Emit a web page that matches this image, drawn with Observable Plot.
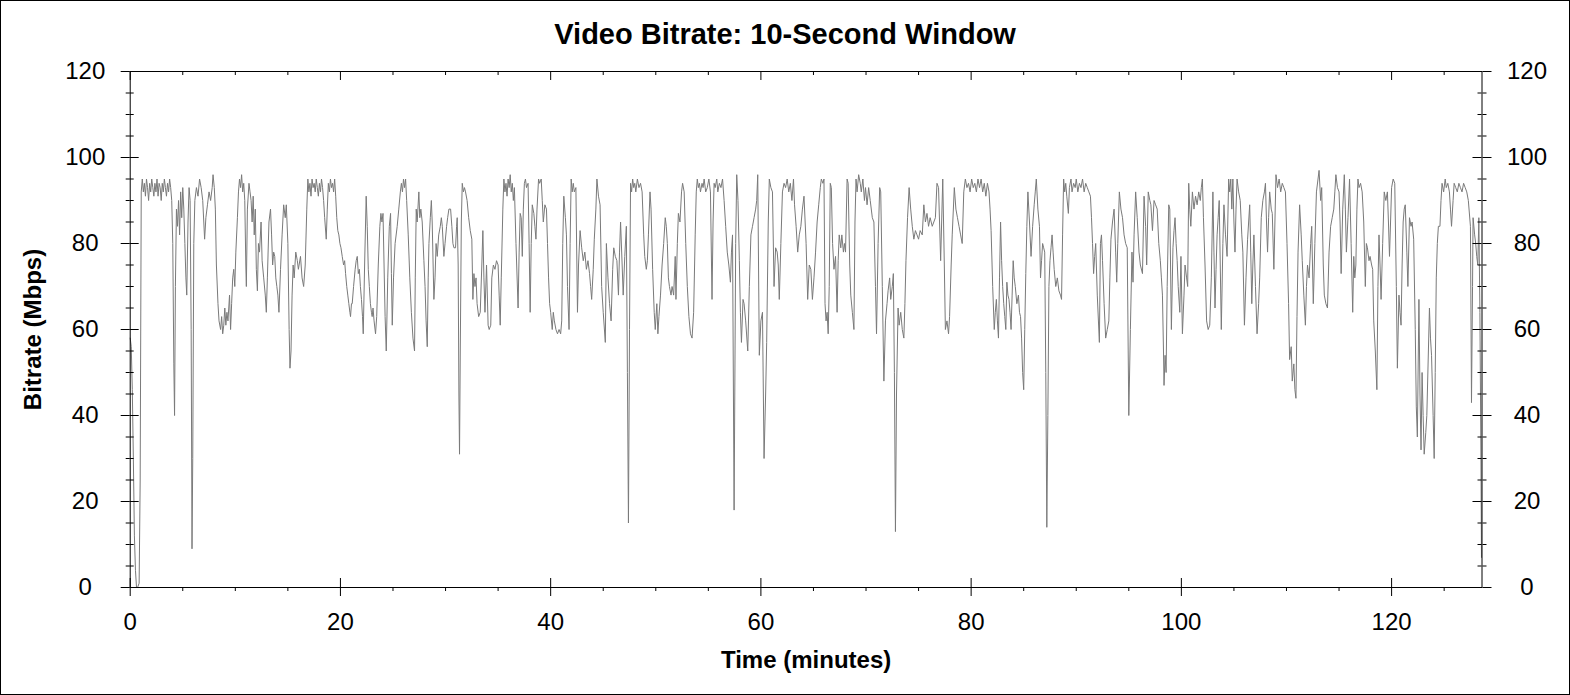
<!DOCTYPE html>
<html><head><meta charset="utf-8">
<script src="https://cdn.jsdelivr.net/npm/d3@7"></script>
<script src="https://cdn.jsdelivr.net/npm/@observablehq/plot@0.6"></script>
<style>
html,body{margin:0;padding:0;background:#fff;}
#frame{width:1570px;height:695px;box-sizing:border-box;border:1px solid #000;overflow:hidden;background:#fff;}
#frame svg{display:block;}
</style></head><body><div id="frame"></div>
<script>
// [minutes, Mbps] readings, split by section of the timeline
const part1 = [[0,58],[0.1,56],[0.2,46],[0.3,30],[0.4,12],[0.5,4],[0.6,0],[0.7,0],[0.85,1],[0.95,25],[1.05,92],[1.15,95],[1.25,92],[1.35,94],[1.45,91],[1.55,95],[1.65,93],[1.75,90],[1.85,94],[1.95,92],[2.05,95],[2.15,93],[2.25,91],[2.35,94],[2.45,92],[2.55,95],[2.65,91],[2.75,94],[2.85,93],[2.95,90],[3.05,94],[3.15,92],[3.25,95],[3.35,93],[3.45,91],[3.55,94],[3.65,92],[3.75,95],[3.85,93],[3.95,90],[4.05,80],[4.15,52],[4.22,40],[4.3,70],[4.4,88],[4.5,84],[4.6,90],[4.7,82],[4.8,92],[4.9,86],[5.0,93],[5.1,88],[5.2,80],[5.3,72],[5.38,68],[5.5,85],[5.6,93],[5.7,90],[5.8,60],[5.88,9],[5.95,30],[6.05,80],[6.15,90],[6.3,93],[6.45,91],[6.6,95],[6.75,93],[6.9,90],[7.0,85],[7.08,81],[7.2,86],[7.35,89],[7.5,92],[7.65,90],[7.8,93],[7.88,96],[8.0,93],[8.1,88],[8.2,75],[8.35,66],[8.45,62],[8.6,60],[8.7,63],[8.8,59],[8.9,61],[9.0,65],[9.1,61],[9.2,64],[9.3,62],[9.45,68],[9.55,60],[9.65,66],[9.75,72],[9.85,74],[9.95,70],[10.05,78],[10.2,86],[10.3,92],[10.4,95],[10.5,93],[10.6,96],[10.7,92],[10.8,94],[10.9,90],[11.0,75],[11.05,70],[11.15,88],[11.3,94],[11.4,92],[11.5,90],[11.6,85],[11.7,91],[11.8,82],[11.9,88],[12.0,74],[12.1,69],[12.2,80],[12.3,78],[12.45,85],[12.55,76],[12.7,72],[12.85,68],[12.95,64],[13.05,72],[13.2,85],[13.35,88],[13.45,82],[13.55,75],[13.65,78],[13.75,77],[13.85,72],[13.95,70],[14.05,68],[14.15,64],[14.3,74],[14.45,82],[14.6,89],[14.75,86],[14.85,89],[15.0,80],[15.12,60],[15.2,51],[15.3,55],[15.4,68],[15.5,75],[15.6,72],[15.75,78],[15.9,76]];
const part2 = [[16.0,74],[16.2,77],[16.35,72],[16.5,70],[16.65,75],[16.8,88],[16.9,95],[17.0,92],[17.1,94],[17.2,91],[17.3,95],[17.4,93],[17.5,94],[17.6,92],[17.7,95],[17.8,93],[17.9,91],[18.0,94],[18.1,92],[18.2,95],[18.3,93],[18.4,90],[18.5,86],[18.65,81],[18.75,88],[18.85,94],[18.95,92],[19.05,95],[19.15,93],[19.25,94],[19.35,92],[19.45,95],[19.55,91],[19.65,86],[19.75,83],[19.85,82],[19.95,80],[20.05,79],[20.17,77],[20.3,75],[20.4,76],[20.49,73],[20.6,70],[20.7,68],[20.8,66],[20.9,64],[20.96,63],[21.05,66],[21.12,66],[21.25,70],[21.4,74],[21.5,76],[21.6,77],[21.7,73],[21.8,74],[21.9,70],[22.0,67],[22.1,63],[22.17,59],[22.3,75],[22.45,91],[22.55,84],[22.65,74],[22.75,70],[22.85,66],[22.95,64],[23.02,63],[23.1,65],[23.2,62],[23.34,59],[23.45,63],[23.6,75],[23.75,84],[23.85,87],[23.95,85],[24.05,87],[24.15,75],[24.25,63],[24.36,55],[24.5,72],[24.65,84],[24.77,87],[24.85,73],[24.93,61],[25.05,72],[25.2,80],[25.4,84],[25.55,88],[25.7,92],[25.8,94],[25.9,92],[26.0,95],[26.1,93],[26.2,95],[26.3,90],[26.45,82],[26.6,72],[26.75,64],[26.9,58],[27.05,55],[27.12,72],[27.21,88],[27.3,85],[27.46,92],[27.55,86],[27.65,88],[27.78,85],[27.94,76],[28.05,70],[28.15,62],[28.26,56],[28.35,72],[28.42,80],[28.55,86],[28.65,90],[28.73,85],[28.89,67],[29.0,72],[29.1,80],[29.21,77],[29.35,82],[29.5,84],[29.6,86],[29.69,84],[29.84,77],[29.95,80],[30.1,84],[30.2,86],[30.32,88],[30.48,88],[30.6,84],[30.7,80],[30.8,79],[30.95,79],[31.05,84],[31.11,86],[31.2,75],[31.27,45],[31.33,31],[31.4,55],[31.5,85],[31.59,94],[31.7,92],[31.8,93],[31.9,92]];
const part3 = [[32.05,90],[32.2,86],[32.35,83],[32.5,81],[32.6,67],[32.7,73],[32.8,70],[32.9,72],[33.0,66],[33.15,63],[33.3,64],[33.45,75],[33.55,83],[33.65,72],[33.75,64],[33.9,75],[34.05,61],[34.15,60],[34.3,61],[34.4,72],[34.55,75],[34.7,74],[34.85,76],[35.0,75],[35.1,68],[35.2,61],[35.3,72],[35.45,88],[35.55,95],[35.65,92],[35.75,94],[35.85,91],[35.95,95],[36.05,93],[36.15,96],[36.25,92],[36.35,94],[36.45,90],[36.55,93],[36.7,80],[36.9,65],[37.0,78],[37.1,87],[37.2,86],[37.3,77],[37.4,88],[37.5,94],[37.6,95],[37.7,93],[37.85,94],[37.95,80],[38.05,64],[38.15,80],[38.25,89],[38.4,87],[38.5,84],[38.6,81],[38.7,88],[38.85,95],[38.95,94],[39.1,95],[39.2,90],[39.3,85],[39.45,89],[39.6,88],[39.7,80],[39.8,72],[39.9,66],[40.0,64],[40.15,60],[40.25,64],[40.35,62],[40.5,60],[40.65,59],[40.8,60],[40.95,59],[41.05,62],[41.15,80],[41.25,91],[41.4,86],[41.5,82],[41.6,70],[41.75,60],[41.85,80],[41.95,95],[42.05,92],[42.15,94],[42.25,92],[42.4,93],[42.55,64],[42.65,75],[42.8,83],[42.95,79],[43.1,76],[43.25,78],[43.4,74],[43.55,76],[43.7,73],[43.8,70],[43.9,67],[44.05,74],[44.15,81],[44.3,88],[44.4,95],[44.55,91],[44.7,89],[44.85,70],[45.0,64],[45.2,57],[45.3,80],[45.45,72],[45.6,66],[45.75,62],[45.9,74],[46.0,79],[46.15,77],[46.3,76],[46.45,68],[46.55,78],[46.65,85],[46.8,75],[46.9,68],[47.05,77],[47.2,84],[47.3,50],[47.4,15],[47.5,60],[47.6,94],[47.7,92],[47.8,95],[47.9,93],[48.0,94],[48.1,92],[48.25,95],[48.4,93]];
const part4 = [[48.55,94],[48.7,92],[48.85,82],[48.95,77],[49.1,74],[49.2,76],[49.3,82],[49.45,92],[49.55,88],[49.7,74],[49.85,64],[49.95,60],[50.1,66],[50.2,59],[50.3,63],[50.45,68],[50.6,75],[50.75,80],[50.9,86],[51.0,84],[51.1,80],[51.2,72],[51.3,70],[51.45,68],[51.55,70],[51.7,68],[51.85,77],[51.92,67],[52.05,80],[52.15,87],[52.3,85],[52.45,92],[52.55,94],[52.7,92],[52.85,80],[53.0,70],[53.15,63],[53.3,59],[53.45,58],[53.6,64],[53.75,82],[53.85,92],[53.95,95],[54.05,93],[54.15,94],[54.25,92],[54.4,94],[54.5,93],[54.6,95],[54.75,92],[54.9,93],[55.05,95],[55.2,92],[55.35,67],[55.45,85],[55.55,94],[55.65,93],[55.8,95],[55.9,92],[56.05,94],[56.2,93],[56.35,95],[56.5,90],[56.65,84],[56.8,78],[56.95,75],[57.1,71],[57.2,78],[57.3,82],[57.45,18],[57.6,80],[57.7,96],[57.82,90],[57.95,76],[58.05,64],[58.15,57],[58.3,67],[58.4,66],[58.55,62],[58.75,55],[58.9,70],[59.05,82],[59.2,84],[59.35,86],[59.5,88],[59.6,90],[59.7,96],[59.85,54],[60.0,62],[60.15,64],[60.3,30],[60.45,45],[60.55,57],[60.7,85],[60.8,95],[60.95,93],[61.1,92],[61.25,70],[61.4,79],[61.55,78],[61.65,75],[61.75,67],[61.9,80],[62.05,92],[62.2,94],[62.35,93],[62.5,95],[62.65,92],[62.8,94],[62.95,90],[63.1,95],[63.2,89],[63.35,84],[63.5,78],[63.65,82],[63.8,84],[63.95,88],[64.1,91],[64.3,80],[64.45,67],[64.6,75],[64.75,74]];
const part5 = [[64.9,67],[65.05,72],[65.2,78],[65.35,85],[65.5,89],[65.65,93],[65.75,95],[65.9,94],[66.0,95],[66.1,66],[66.2,62],[66.3,64],[66.4,59],[66.5,70],[66.6,94],[66.7,93],[66.82,80],[66.95,74],[67.1,77],[67.25,64],[67.35,76],[67.45,82],[67.6,79],[67.7,82],[67.85,78],[67.95,80],[68.05,78],[68.2,95],[68.3,94],[68.45,75],[68.55,68],[68.7,64],[68.85,60],[68.95,85],[69.05,95],[69.15,92],[69.3,96],[69.45,94],[69.55,92],[69.7,95],[69.85,90],[69.95,93],[70.1,89],[70.25,93],[70.4,90],[70.6,86],[70.75,85],[70.9,70],[71.0,59],[71.15,80],[71.3,93],[71.4,92],[71.55,70],[71.7,48],[71.85,62],[72.0,66],[72.1,69],[72.25,72],[72.35,67],[72.5,70],[72.6,73],[72.7,50],[72.8,13],[72.9,45],[73.05,65],[73.15,61],[73.3,64],[73.45,60],[73.6,58],[73.7,66],[73.8,76],[73.95,86],[74.1,93],[74.25,88],[74.4,84],[74.55,81],[74.7,83],[74.85,82],[75.0,81],[75.15,83],[75.35,82],[75.5,89],[75.65,85],[75.8,87],[75.95,84],[76.1,86],[76.3,84],[76.45,85],[76.6,86],[76.75,94],[76.9,93],[77.1,76],[77.3,95],[77.45,75],[77.55,60],[77.7,62],[77.85,59],[77.95,63],[78.1,75],[78.2,82],[78.4,93],[78.55,88],[78.7,86],[78.85,84],[79.0,82],[79.15,80],[79.3,92],[79.45,95],[79.6,93],[79.75,94],[79.9,92],[80.05,95],[80.2,93],[80.35,94],[80.5,92],[80.65,95]];
const part6 = [[80.8,93],[80.95,95],[81.1,92],[81.25,94],[81.4,91],[81.55,94],[81.7,92],[81.8,88],[81.9,83],[82.05,70],[82.2,60],[82.3,64],[82.4,67],[82.5,62],[82.6,58],[82.7,72],[82.8,85],[82.9,76],[83.0,70],[83.1,66],[83.2,63],[83.3,60],[83.4,71],[83.5,68],[83.6,67],[83.7,64],[83.8,60],[83.9,68],[84.0,76],[84.1,72],[84.2,70],[84.35,66],[84.5,68],[84.6,64],[84.7,63],[84.8,58],[84.9,50],[85.0,46],[85.1,60],[85.2,73],[85.3,84],[85.4,92],[85.55,85],[85.7,77],[85.85,84],[86.0,89],[86.1,92],[86.2,95],[86.35,88],[86.5,84],[86.6,72],[86.7,76],[86.8,80],[86.9,79],[87.0,78],[87.1,50],[87.2,14],[87.3,40],[87.4,70],[87.5,76],[87.6,79],[87.7,82],[87.8,78],[87.9,74],[88.05,70],[88.2,72],[88.35,69],[88.5,68],[88.6,67],[88.7,82],[88.8,95],[88.9,92],[89.0,94],[89.1,91],[89.25,87],[89.35,93],[89.5,95],[89.6,92],[89.75,94],[89.9,93],[90.0,95],[90.15,92],[90.3,94],[90.45,93],[90.6,95],[90.75,92],[90.9,94],[91.05,93],[91.2,92],[91.35,91],[91.45,86],[91.55,80],[91.65,73],[91.75,77],[91.85,80],[92.0,68],[92.2,57],[92.3,80],[92.4,82],[92.5,76],[92.65,66],[92.8,58],[92.95,60],[93.1,62],[93.2,72],[93.3,81],[93.45,85],[93.6,88],[93.75,78],[93.85,71],[93.95,80],[94.1,92],[94.25,88],[94.4,86],[94.55,82],[94.7,80],[94.85,79],[95.0,40],[95.15,60],[95.3,78],[95.4,71],[95.5,82],[95.65,92],[95.8,86],[95.97,78],[96.1,75],[96.3,73],[96.45,91],[96.6,84],[96.7,75],[96.85,92],[97.0,90]];
const part7 = [[97.1,89],[97.25,83],[97.4,90],[97.55,89],[97.7,88],[97.85,80],[98.0,76],[98.1,72],[98.2,68],[98.3,55],[98.35,47],[98.45,54],[98.55,50],[98.65,70],[98.8,89],[98.9,88],[99.05,60],[99.2,79],[99.3,83],[99.4,86],[99.5,80],[99.6,76],[99.7,70],[99.85,64],[99.96,77],[100.1,59],[100.25,68],[100.35,75],[100.5,72],[100.6,70],[100.7,94],[100.8,88],[100.9,84],[101.05,92],[101.2,88],[101.35,91],[101.5,89],[101.65,92],[101.8,90],[101.9,93],[102.0,95],[102.1,86],[102.25,75],[102.4,62],[102.55,60],[102.7,61],[102.85,72],[103.0,92],[103.1,78],[103.2,65],[103.3,74],[103.4,82],[103.5,86],[103.6,90],[103.7,75],[103.8,60],[103.95,80],[104.05,89],[104.2,82],[104.35,77],[104.5,95],[104.6,92],[104.7,95],[104.8,88],[104.9,95],[105.0,85],[105.1,78],[105.2,88],[105.3,95],[105.45,92],[105.6,90],[105.75,82],[105.85,78],[106.0,61],[106.15,72],[106.3,81],[106.5,89],[106.6,78],[106.7,66],[106.8,75],[106.9,82],[107.05,70],[107.2,59],[107.35,66],[107.45,72],[107.6,86],[107.75,90],[107.9,92],[108.0,94],[108.1,85],[108.2,78],[108.3,86],[108.4,92],[108.55,88],[108.65,87],[108.8,74],[108.9,85],[109.0,96],[109.15,93],[109.3,95],[109.45,92],[109.6,94],[109.75,93],[109.9,92],[110.05,80],[110.2,66],[110.3,53],[110.45,56],[110.55,48],[110.7,52],[110.8,46],[110.9,44],[111.0,63],[111.1,78],[111.25,89],[111.4,82],[111.5,76],[111.65,68],[111.8,61],[111.9,70],[112.0,75],[112.15,72],[112.3,80],[112.4,84],[112.55,66],[112.7,80],[112.85,92],[113.0,95],[113.1,97]];
const part8 = [[113.25,90],[113.35,93],[113.5,75],[113.6,68],[113.75,66],[113.9,65],[114.05,78],[114.2,84],[114.35,86],[114.5,88],[114.6,92],[114.7,96],[114.85,93],[115.0,92],[115.1,85],[115.2,73],[115.35,88],[115.5,96],[115.6,88],[115.7,78],[115.85,86],[116.0,95],[116.15,80],[116.3,64],[116.4,77],[116.5,72],[116.6,75],[116.7,88],[116.8,95],[116.9,93],[117.05,94],[117.2,92],[117.35,85],[117.5,70],[117.6,80],[117.7,79],[117.85,76],[117.95,77],[118.1,75],[118.2,74],[118.3,62],[118.45,55],[118.6,46],[118.7,70],[118.8,82],[118.9,75],[119.0,67],[119.15,80],[119.3,92],[119.45,90],[119.6,92],[119.7,85],[119.8,77],[119.9,85],[120.0,93],[120.15,95],[120.3,94],[120.45,70],[120.55,51],[120.7,68],[120.8,64],[120.9,61],[121.0,75],[121.1,85],[121.2,88],[121.3,89],[121.45,78],[121.55,70],[121.7,86],[121.85,84],[121.95,85],[122.1,81],[122.25,60],[122.35,42],[122.45,35],[122.6,67],[122.7,45],[122.8,32],[122.9,50],[123.0,40],[123.1,31],[123.25,36],[123.35,40],[123.5,55],[123.6,65],[123.7,58],[123.8,54],[123.95,40],[124.05,30],[124.15,50],[124.25,72],[124.35,80],[124.45,84],[124.6,84],[124.7,90],[124.8,94],[124.95,92],[125.1,95],[125.2,93],[125.35,94],[125.5,92],[125.6,88],[125.7,84],[125.85,90],[125.95,94],[126.1,93],[126.25,92],[126.4,94],[126.55,93],[126.7,92],[126.85,94],[127.0,93],[127.15,92],[127.3,90],[127.5,84],[127.6,43],[127.7,70],[127.75,86],[127.9,82],[128.0,80],[128.1,77],[128.2,75],[128.3,86],[128.4,64],[128.5,30],[128.55,7]];

const xTicks = [0, 20, 40, 60, 80, 100, 120];
const xMinor = [5,10,15,25,30,35,45,50,55,65,70,75,85,90,95,105,110,115,125];
const yTicks = [0, 20, 40, 60, 80, 100, 120];
const yMinor = [5,10,15,25,30,35,45,50,55,65,70,75,85,90,95,105,110,115];
const xDomain = [0, 128.6];
const yDomain = [0, 120];
const titleText = "Video Bitrate: 10-Second Window";
const xLabel = "Time (minutes)";
const yLabel = "Bitrate (Mbps)";

const data = [part1, part2, part3, part4, part5, part6, part7, part8].flat().map(([t, v]) => ({t, v}));

const W = 1568, H = 693;
const mL = 128.7, mR = 87.5, mT = 70, mB = 107;
const fw = W - mL - mR, fh = H - mT - mB;
const font = "'Liberation Sans', Arial, Helvetica, sans-serif";

const chart = Plot.plot({
  width: W, height: H,
  marginLeft: mL, marginRight: mR, marginTop: mT, marginBottom: mB,
  style: {fontFamily: font, background: "#fff", color: "#000", overflow: "visible"},
  x: {domain: xDomain, label: null},
  y: {domain: yDomain, label: null},
  marks: [
    Plot.line(data, {x: "t", y: "v", stroke: "#7a7a7a", strokeWidth: 1}),
    Plot.frame({stroke: "#000"}),
    Plot.axisY({ticks: yTicks, anchor: "left", tickSize: 9, tickPadding: 36, textAnchor: "middle", fontSize: 24, label: null}),
    Plot.axisY({ticks: yTicks, anchor: "right", tickSize: 9, tickPadding: 36, textAnchor: "middle", fontSize: 24, label: null}),
    Plot.axisY({ticks: yMinor, anchor: "left", tickSize: 4, text: null, label: null}),
    Plot.axisY({ticks: yMinor, anchor: "right", tickSize: 4, text: null, label: null}),
    Plot.tickY(yTicks, {y: d => d, insetRight: fw - 9, stroke: "#000"}),
    Plot.tickY(yTicks, {y: d => d, insetLeft: fw - 9, stroke: "#000"}),
    Plot.tickY(yMinor, {y: d => d, insetRight: fw - 4, stroke: "#000"}),
    Plot.tickY(yMinor, {y: d => d, insetLeft: fw - 4, stroke: "#000"}),
    Plot.axisX({ticks: xTicks, anchor: "bottom", tickSize: 9, tickPadding: 16, fontSize: 24, label: null}),
    Plot.axisX({ticks: xMinor, anchor: "bottom", tickSize: 4, text: null, label: null}),
    Plot.tickX(xTicks, {x: d => d, insetTop: fh - 9, stroke: "#000"}),
    Plot.tickX(xTicks, {x: d => d, insetBottom: fh - 9, stroke: "#000"}),
    Plot.tickX(xMinor, {x: d => d, insetBottom: fh - 4, stroke: "#000"}),
    Plot.text([titleText], {frameAnchor: "top", lineAnchor: "middle", dx: -21, dy: -37, fontSize: 29, fontWeight: "bold", fill: "#000"}),
    Plot.text([xLabel], {frameAnchor: "bottom", lineAnchor: "middle", dy: 73, fontSize: 24, fontWeight: "bold", fill: "#000"}),
    Plot.text([yLabel], {frameAnchor: "left", textAnchor: "middle", lineAnchor: "middle", dx: -96.7, rotate: -90, fontSize: 24, fontWeight: "bold", fill: "#000"})
  ]
});
document.getElementById("frame").appendChild(chart);
</script>
</body></html>
